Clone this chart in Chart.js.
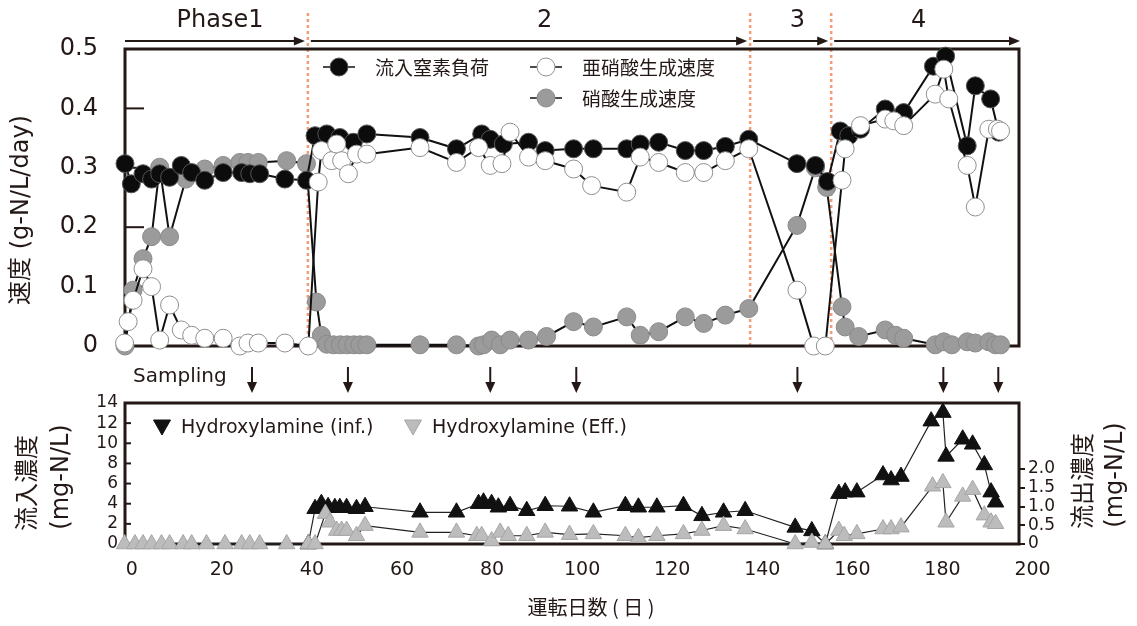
<!DOCTYPE html>
<html>
<head>
<meta charset="utf-8">
<script src="https://cdn.jsdelivr.net/npm/chart.js@4.4.0/dist/chart.umd.min.js"></script>
<style>
    html, body { margin: 0; padding: 0; background: #fff; }
    #wrap { position: relative; width: 1137px; height: 626px; }
    canvas { position: absolute; left: 0; top: 0; }
</style>
</head>
<body>
<div id="wrap">
    <canvas id="rateChart" width="1137" height="626"></canvas>
    <canvas id="nh2ohChart" width="1137" height="626"></canvas>
</div>
<script>
// ---- data (days of operation) ----
const loadDays = [-1.5, -0.1, 2.5, 4.4, 6.2, 8.4, 11.0, 13.3, 16.2, 20.3, 24.4, 26.2, 28.4, 34.0, 38.8,
    40.7, 43.3, 46.2, 49.2, 52.2, 64.0, 72.1, 77.7, 79.6, 82.5, 88.1, 91.8, 98.1, 102.5, 109.9,
    112.9, 117.0, 122.9, 127.0, 131.8, 137.0, 147.7, 151.8, 154.5, 157.3, 159.2, 161.8, 167.3, 171.4, 178.0,
    180.7, 185.5, 187.3, 190.7, 192.5];
const loadRate = [0.307, 0.273, 0.290, 0.281, 0.290, 0.284, 0.304, 0.292, 0.279, 0.292, 0.292, 0.290, 0.290, 0.281, 0.279,
    0.354, 0.357, 0.351, 0.343, 0.357, 0.351, 0.332, 0.357, 0.348, 0.340, 0.343, 0.329, 0.332, 0.332, 0.332,
    0.340, 0.343, 0.329, 0.329, 0.336, 0.348, 0.307, 0.304, 0.277, 0.362, 0.354, 0.365, 0.399, 0.393, 0.471,
    0.488, 0.337, 0.438, 0.416, 0.360];

const nitriteDays = [-1.6, -0.8, 0.3, 2.5, 4.4, 6.2, 8.4, 11.0, 13.3, 16.2, 20.3, 24.0, 25.8, 28.1, 34.0, 39.2,
    41.4, 42.1, 44.4, 45.5, 46.6, 48.1, 49.9, 52.2, 64.0, 72.1, 77.0, 79.6, 82.2, 84.0,
    88.1, 91.8, 98.1, 102.1, 109.9, 112.9, 117.0, 122.9, 127.0, 131.8, 137.0, 147.7, 151.4, 154.0,
    157.7, 158.4, 161.8, 167.3, 169.2, 171.4, 178.4, 180.3, 181.4, 185.5, 187.3, 190.3, 192.2, 192.9];
const nitriteRate = [0.005, 0.041, 0.077, 0.130, 0.100, 0.010, 0.069, 0.027, 0.018, 0.013, 0.013, 0.0, 0.005, 0.005, 0.005, 0.0,
    0.276, 0.329, 0.312, 0.340, 0.312, 0.290, 0.323, 0.323, 0.334, 0.309, 0.334, 0.304, 0.307, 0.360,
    0.318, 0.312, 0.298, 0.270, 0.259, 0.318, 0.309, 0.292, 0.292, 0.312, 0.332, 0.094, 0.0, 0.0,
    0.279, 0.332, 0.371, 0.382, 0.379, 0.371, 0.424, 0.466, 0.416, 0.304, 0.234, 0.365, 0.365, 0.362];

const nitrateDays = [-1.5, 0.3, 2.5, 4.4, 6.2, 8.4, 12.0, 16.2, 20.3, 24.0, 25.8, 28.1, 34.4, 38.8,
    41.0, 42.1, 43.3, 44.8, 46.3, 47.8, 49.3, 50.7, 52.2, 64.0, 72.1, 77.0, 78.1, 79.9, 81.8, 84.0,
    88.1, 92.1, 98.1, 102.5, 109.9, 112.9, 117.0, 122.9, 127.0, 131.8, 137.0, 147.7, 151.8, 154.3,
    157.7, 158.4, 161.4, 167.3, 169.6, 171.4, 178.4, 180.3, 182.1, 185.5, 187.3, 190.3, 191.8, 192.9];
const nitrateRate = [0.0, 0.094, 0.147, 0.184, 0.301, 0.184, 0.281, 0.298, 0.304, 0.309, 0.309, 0.309, 0.312, 0.307,
    0.074, 0.018, 0.003, 0.002, 0.002, 0.002, 0.002, 0.002, 0.002, 0.002, 0.002, 0.0, 0.002, 0.010, 0.002, 0.010,
    0.010, 0.016, 0.041, 0.032, 0.049, 0.018, 0.024, 0.049, 0.038, 0.052, 0.063, 0.203, 0.300, 0.267,
    0.066, 0.032, 0.016, 0.027, 0.018, 0.013, 0.002, 0.007, 0.002, 0.007, 0.005, 0.007, 0.002, 0.002];

const infDays = [39.2, 40.7, 42.1, 43.6, 45.1, 46.2, 47.7, 49.9, 51.8, 64.0, 72.1,
    77.0, 78.1, 79.9, 81.4, 84.0, 87.7, 91.8, 97.2, 102.5, 109.6, 112.5, 116.6, 122.5, 126.6, 131.4, 136.2,
    147.3, 151.0, 154.0, 157.0, 158.4, 161.0, 166.8, 168.6, 170.8,
    177.5, 180.1, 180.8, 184.5, 186.7, 189.3, 190.8, 191.8];
const infConc = [0, 3.5, 4.0, 3.7, 3.6, 3.6, 3.6, 3.5, 3.7, 3.15, 3.15,
    4.0, 4.15, 4.0, 3.65, 3.8, 3.3, 3.8, 3.75, 3.15, 3.8, 3.65, 3.65, 3.8, 2.8, 3.15, 3.3,
    1.65, 1.3, 0, 5.0, 5.15, 5.15, 6.85, 6.35, 6.7,
    12.2, 13.05, 8.7, 10.4, 9.9, 7.85, 5.15, 4.15];

const effDays = [-1.6, 0.7, 2.5, 4.4, 6.6, 8.4, 11.4, 13.3, 16.6, 20.7, 24.4, 26.2, 28.4, 34.4, 39.2,
    40.7, 43.0, 44.0, 45.5, 46.6, 47.7, 49.9, 51.8, 64.0, 72.1,
    76.6, 77.7, 79.9, 81.8, 83.6, 87.7, 91.8, 97.2, 102.5, 109.6, 112.5, 116.6, 122.5, 126.6, 131.4, 136.2,
    147.3, 151.0, 154.0, 157.0, 158.2, 161.0, 166.8, 168.6, 170.8,
    177.8, 180.1, 180.8, 184.5, 186.7, 189.3, 190.8, 191.8];
const effConc = [0, 0, 0, 0, 0, 0, 0, 0, 0, 0, 0, 0, 0, 0, 0,
    0, 0.81, 0.58, 0.36, 0.36, 0.36, 0.22, 0.49, 0.31, 0.31,
    0.22, 0.22, 0.08, 0.31, 0.22, 0.22, 0.31, 0.25, 0.27, 0.22, 0.17, 0.22, 0.27, 0.36, 0.49, 0.40,
    0, 0.04, 0, 0.36, 0.22, 0.27, 0.40, 0.40, 0.45,
    1.54, 1.63, 0.58, 1.27, 1.45, 0.77, 0.58, 0.54];

const phaseNames = ['Phase1', '2', '3', '4'];
const phaseEdges = [39.1, 137.3, 155.3];          // dashed boundaries
const phaseLabelDays = [19.6, 91.7, 147.8, 174.7];
const samplingDays = [26.7, 48.0, 79.6, 98.7, 147.8, 180.2, 192.4];

const xTicks = [0, 20, 40, 60, 80, 100, 120, 140, 160, 180, 200];
const rateTicks = [0, 0.1, 0.2, 0.3, 0.4, 0.5];
const infTicks = [0, 2, 4, 6, 8, 10, 12, 14];
const effTicks = [0, 0.5, 1.0, 1.5, 2.0];

// ---- look ----
const INK = '#231815';
const FONT = '"DejaVu Sans", "Noto Sans CJK JP", sans-serif';
const JP = '"Noto Sans CJK JP", "DejaVu Sans", sans-serif';
const X_MIN = -1.5, X_MAX = 197;

const xy = (days, vals) => days.map((d, i) => ({ x: d, y: vals[i] }));
const fmt1 = v => v === 0 ? '0' : Number(v).toFixed(1);

function vText(ctx, text, x, y, font) {
    ctx.save();
    ctx.translate(x, y);
    ctx.rotate(-Math.PI / 2);
    ctx.font = font;
    ctx.fillStyle = INK;
    ctx.textAlign = 'center';
    ctx.textBaseline = 'middle';
    ctx.fillText(text, 0, 0);
    ctx.restore();
}

function box(ctx, a, w) {
    ctx.save();
    ctx.strokeStyle = INK;
    ctx.lineWidth = w;
    ctx.strokeRect(a.left, a.top, a.right - a.left, a.bottom - a.top);
    ctx.restore();
}

function arrowRight(ctx, x1, x2, y) {
    ctx.beginPath();
    ctx.moveTo(x1, y);
    ctx.lineTo(x2 - 8, y);
    ctx.stroke();
    ctx.beginPath();
    ctx.moveTo(x2, y);
    ctx.lineTo(x2 - 11, y - 4.5);
    ctx.lineTo(x2 - 11, y + 4.5);
    ctx.closePath();
    ctx.fill();
}

const topDecor = {
    id: 'topDecor',
    beforeDatasetsDraw(chart) {
        const { ctx, chartArea: a, scales } = chart;
        ctx.save();
        // phase boundaries
        ctx.strokeStyle = '#f29c78';
        ctx.lineWidth = 2.5;
        ctx.setLineDash([3, 3]);
        phaseEdges.forEach(d => {
            const x = scales.x.getPixelForValue(d);
            ctx.beginPath();
            ctx.moveTo(x, 13);
            ctx.lineTo(x, a.bottom);
            ctx.stroke();
        });
        ctx.setLineDash([]);
        // inward ticks
        ctx.strokeStyle = INK;
        ctx.lineWidth = 2;
        rateTicks.slice(1, -1).forEach(v => {
            const y = scales.y.getPixelForValue(v);
            ctx.beginPath();
            ctx.moveTo(a.left, y);
            ctx.lineTo(a.left + 19, y);
            ctx.stroke();
        });
        ctx.restore();
        box(ctx, a, 3);
    },
    afterDraw(chart) {
        const { ctx, chartArea: a, scales } = chart;
        const px = d => scales.x.getPixelForValue(d);
        ctx.save();
        // phase arrows
        ctx.strokeStyle = INK;
        ctx.fillStyle = INK;
        ctx.lineWidth = 2;
        const starts = [a.left, ...phaseEdges.map(d => px(d) + 3)];
        const ends = [...phaseEdges.map(d => px(d) - 3), a.right + 1];
        starts.forEach((s, i) => arrowRight(ctx, s, ends[i], 41));
        ctx.font = '24px ' + FONT;
        ctx.textAlign = 'center';
        ctx.textBaseline = 'middle';
        phaseNames.forEach((n, i) => ctx.fillText(n, px(phaseLabelDays[i]), 21));

        // legend
        const items = [
            { label: '流入窒素負荷', x: 339, y: 67, fill: '#0c0c0c', stroke: '#555' },
            { label: '亜硝酸生成速度', x: 546, y: 67, fill: '#ffffff', stroke: '#8f8f8f' },
            { label: '硝酸生成速度', x: 546, y: 98, fill: '#9b9b9b', stroke: '#8a8a8a' }
        ];
        ctx.font = '19px ' + JP;
        ctx.textAlign = 'left';
        items.forEach(it => {
            ctx.strokeStyle = '#111';
            ctx.lineWidth = 1.5;
            ctx.beginPath();
            ctx.moveTo(it.x - 16, it.y);
            ctx.lineTo(it.x + 16, it.y);
            ctx.stroke();
            ctx.beginPath();
            ctx.arc(it.x, it.y, 9, 0, Math.PI * 2);
            ctx.fillStyle = it.fill;
            ctx.fill();
            ctx.strokeStyle = it.stroke;
            ctx.lineWidth = 1;
            ctx.stroke();
            ctx.fillStyle = INK;
            ctx.fillText(it.label, it.x + 36, it.y + 1);
        });
        ctx.restore();
        vText(ctx, '速度 (g-N/L/day)', 22, 210, '24px ' + FONT);
    }
};

const bottomDecor = {
    id: 'bottomDecor',
    beforeDatasetsDraw(chart) {
        const { ctx, chartArea: a, scales } = chart;
        ctx.save();
        ctx.strokeStyle = INK;
        ctx.lineWidth = 2;
        infTicks.slice(1, -1).forEach(v => {
            const y = scales.y.getPixelForValue(v);
            ctx.beginPath();
            ctx.moveTo(a.left, y);
            ctx.lineTo(a.left + 6, y);
            ctx.stroke();
        });
        ctx.restore();
        box(ctx, a, 3);
    },
    afterDraw(chart) {
        const { ctx, scales } = chart;
        ctx.save();
        // sampling arrows
        ctx.fillStyle = INK;
        ctx.strokeStyle = INK;
        ctx.font = '20px ' + FONT;
        ctx.textAlign = 'left';
        ctx.textBaseline = 'middle';
        ctx.fillText('Sampling', 133, 377);
        ctx.lineWidth = 2;
        samplingDays.forEach(d => {
            const x = scales.x.getPixelForValue(d);
            ctx.beginPath();
            ctx.moveTo(x, 367);
            ctx.lineTo(x, 384);
            ctx.stroke();
            ctx.beginPath();
            ctx.moveTo(x, 393);
            ctx.lineTo(x - 5, 382);
            ctx.lineTo(x + 5, 382);
            ctx.closePath();
            ctx.fill();
        });

        // legend
        const items = [
            { label: 'Hydroxylamine (inf.)', x: 162, fill: '#111111', stroke: '#111111' },
            { label: 'Hydroxylamine (Eff.)', x: 413, fill: '#bcbcbc', stroke: '#a6a6a6' }
        ];
        ctx.font = '19px ' + FONT;
        items.forEach(it => {
            const y = 427;
            ctx.beginPath();
            ctx.moveTo(it.x - 8.5, y - 7);
            ctx.lineTo(it.x + 8.5, y - 7);
            ctx.lineTo(it.x, y + 8);
            ctx.closePath();
            ctx.fillStyle = it.fill;
            ctx.fill();
            ctx.strokeStyle = it.stroke;
            ctx.lineWidth = 1;
            ctx.stroke();
            ctx.fillStyle = INK;
            ctx.fillText(it.label, it.x + 19, y + 1);
        });

        ctx.textAlign = 'center';
        ctx.font = '20px ' + JP;
        ctx.fillText('運転日数 ( 日 )', 591, 607);
        ctx.restore();

        vText(ctx, '流入濃度', 26, 483, '24px ' + JP);
        vText(ctx, '(mg-N/L)', 62, 477, '24px ' + FONT);
        vText(ctx, '流出濃度', 1082, 481, '24px ' + JP);
        vText(ctx, '(mg-N/L)', 1116, 475, '24px ' + FONT);
    }
};

const tickFont = size => ({ family: FONT, size: size });

// ---- upper panel: rates ----
new Chart(document.getElementById('rateChart'), {
    type: 'line',
    data: {
        datasets: [
            {
                label: '亜硝酸生成速度',
                data: xy(nitriteDays, nitriteRate),
                borderColor: '#111',
                borderWidth: 2,
                pointRadius: 9,
                pointBackgroundColor: '#ffffff',
                pointBorderColor: '#8f8f8f',
                pointBorderWidth: 1,
                clip: false
            },
            {
                label: '流入窒素負荷',
                data: xy(loadDays, loadRate),
                borderColor: '#111',
                borderWidth: 2,
                pointRadius: 9,
                pointBackgroundColor: '#0c0c0c',
                pointBorderColor: '#555',
                pointBorderWidth: 1,
                clip: false
            },
            {
                label: '硝酸生成速度',
                data: xy(nitrateDays, nitrateRate),
                borderColor: '#111',
                borderWidth: 2,
                pointRadius: 9,
                pointBackgroundColor: '#9b9b9b',
                pointBorderColor: '#8a8a8a',
                pointBorderWidth: 1,
                clip: false
            }
        ]
    },
    options: {
        responsive: false,
        animation: false,
        devicePixelRatio: 1,
        layout: { padding: { top: 49, right: 118, bottom: 280, left: 0 } },
        plugins: {
            legend: { display: false },
            tooltip: { enabled: false }
        },
        scales: {
            x: { type: 'linear', min: X_MIN, max: X_MAX, display: false },
            y: {
                min: 0,
                max: 0.5,
                afterFit: s => { s.width = 125; },
                afterBuildTicks: s => { s.ticks = rateTicks.map(v => ({ value: v })); },
                grid: { display: false, drawTicks: false },
                border: { display: false },
                ticks: { padding: 27, color: INK, font: tickFont(24), callback: fmt1 }
            }
        }
    },
    plugins: [topDecor]
});

// ---- lower panel: hydroxylamine ----
new Chart(document.getElementById('nh2ohChart'), {
    type: 'line',
    data: {
        datasets: [
            {
                label: 'Hydroxylamine (Eff.)',
                yAxisID: 'y2',
                data: xy(effDays, effConc),
                borderColor: '#222',
                borderWidth: 1.2,
                pointStyle: 'triangle',
                pointRadius: 9.5,
                pointBackgroundColor: '#bcbcbc',
                pointBorderColor: '#a6a6a6',
                pointBorderWidth: 1,
                clip: false
            },
            {
                label: 'Hydroxylamine (inf.)',
                yAxisID: 'y',
                data: xy(infDays, infConc),
                borderColor: '#222',
                borderWidth: 1.2,
                pointStyle: 'triangle',
                pointRadius: 9.5,
                pointBackgroundColor: '#111111',
                pointBorderColor: '#111111',
                pointBorderWidth: 1,
                clip: false
            }
        ]
    },
    options: {
        responsive: false,
        animation: false,
        devicePixelRatio: 1,
        layout: { padding: { top: 403, right: 0, bottom: 0, left: 0 } },
        plugins: {
            legend: { display: false },
            tooltip: { enabled: false }
        },
        scales: {
            x: {
                type: 'linear',
                min: X_MIN,
                max: X_MAX,
                afterFit: s => { s.height = 82; },
                afterBuildTicks: s => { s.ticks = xTicks.map(v => ({ value: v })); },
                grid: { display: false, drawTicks: false },
                border: { display: false },
                ticks: { autoSkip: false, maxRotation: 0, padding: 15, color: INK, font: tickFont(19) }
            },
            y: {
                position: 'left',
                min: 0,
                max: 14,
                afterFit: s => { s.width = 125; },
                afterBuildTicks: s => { s.ticks = infTicks.map(v => ({ value: v })); },
                grid: { display: false, drawTicks: false },
                border: { display: false },
                ticks: { autoSkip: false, padding: 7, color: INK, font: tickFont(17) }
            },
            y2: {
                position: 'right',
                min: 0,
                max: 3.76,
                afterFit: s => { s.width = 118; },
                afterBuildTicks: s => { s.ticks = effTicks.map(v => ({ value: v })); },
                grid: { display: true, drawOnChartArea: false, drawTicks: true, tickLength: 6, color: INK, lineWidth: 2 },
                border: { display: false },
                ticks: { autoSkip: false, padding: 3, color: INK, font: tickFont(17), callback: fmt1 }
            }
        }
    },
    plugins: [bottomDecor]
});
</script>
</body>
</html>
